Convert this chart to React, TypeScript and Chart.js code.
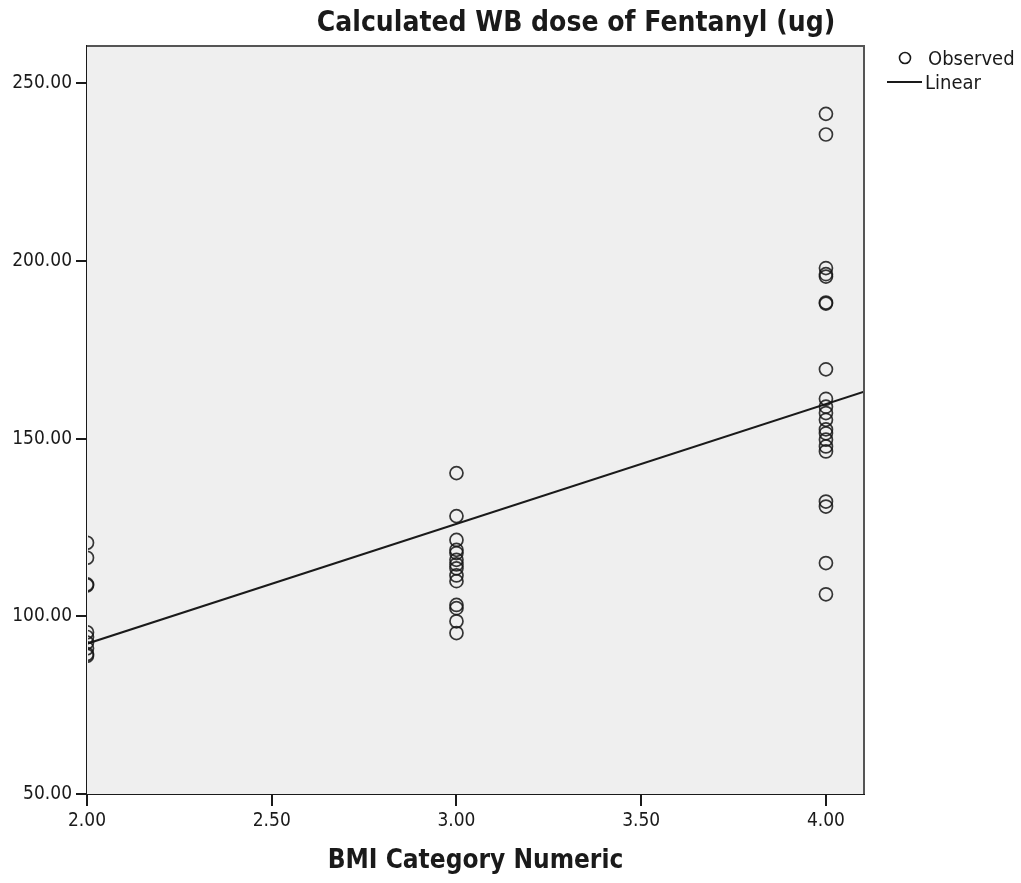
import React, { useEffect, useRef } from 'react';
import { Chart, registerables } from 'chart.js';
Chart.register(...registerables);

// BMI categories (x) and observed whole-body fentanyl dose (ug)
const categories = [2, 3, 4];
const dose2 = [120.7, 116.5, 109.0, 108.7, 95.5, 94.2, 92.6, 91.0, 89.4, 88.9];
const dose3 = [140.3, 128.2, 121.5, 118.7, 117.8, 115.9, 114.6, 113.5, 111.5, 109.9, 103.2, 102.3, 98.6, 95.3];
const dose4 = [241.4, 235.6, 198.0, 196.3, 195.6, 188.3, 188.0, 169.5, 161.2, 159.0, 157.2, 155.3, 152.6, 151.5, 149.7, 147.8, 146.4, 132.3, 130.9, 115.0, 106.2];

// Linear fit endpoints
const lineX = [2.0, 4.103];
const lineY = [92.3, 163.2];

const xTicks = [2.0, 2.5, 3.0, 3.5, 4.0];
const yTicks = [50, 100, 150, 200, 250];
const xMin = 2.0, xMax = 4.103, yMin = 50, yMax = 260.5;

const titleText = 'Calculated WB dose of Fentanyl (ug)';
const xTitle = 'BMI Category Numeric';
const legendLabels = ['Observed', 'Linear'];

const FONT = "'DejaVu Sans Condensed', 'Liberation Sans', sans-serif";
const INK = '#1a1a1a';

export default function App() {
  const ref = useRef<HTMLCanvasElement>(null);
  useEffect(() => {
    const groups = [dose2, dose3, dose4];
    const points: { x: number; y: number }[] = [];
    groups.forEach((g, i) => g.forEach((v) => points.push({ x: categories[i], y: v })));

    const framePlugin = {
      id: 'frame',
      beforeDatasetsDraw(chart: any) {
        const { ctx, chartArea: a } = chart;
        ctx.save();
        ctx.fillStyle = '#efefef';
        ctx.fillRect(a.left, a.top, a.right - a.left, a.bottom - a.top);
        ctx.restore();
      },
      beforeDatasetDraw(chart: any) {
        const { ctx, chartArea: a } = chart;
        ctx.save();
        ctx.beginPath();
        ctx.rect(a.left + 1, a.top, a.right - a.left - 1, a.bottom - a.top - 1);
        ctx.clip();
      },
      afterDatasetDraw(chart: any) {
        chart.ctx.restore();
      },
      afterDraw(chart: any) {
        const { ctx, chartArea: a } = chart;
        ctx.save();
        ctx.strokeStyle = '#555';
        ctx.lineWidth = 2;
        ctx.beginPath();
        ctx.moveTo(a.left, a.top);
        ctx.lineTo(a.right, a.top);
        ctx.lineTo(a.right, a.bottom);
        ctx.stroke();
        // title
        ctx.fillStyle = INK;
        ctx.font = `bold 28px ${FONT}`;
        ctx.textAlign = 'center';
        ctx.textBaseline = 'middle';
        ctx.fillText(titleText, 576, 24);
        // legend
        ctx.font = `20px ${FONT}`;
        ctx.textAlign = 'left';
        ctx.strokeStyle = INK;
        ctx.lineWidth = 1.6;
        ctx.beginPath();
        ctx.arc(905, 58, 5.5, 0, Math.PI * 2);
        ctx.stroke();
        ctx.fillText(legendLabels[0], 928, 60);
        ctx.lineWidth = 2;
        ctx.beginPath();
        ctx.moveTo(887, 82);
        ctx.lineTo(922, 82);
        ctx.stroke();
        ctx.fillText(legendLabels[1], 925, 84);
        ctx.restore();
      },
    };

    const chart = new Chart(ref.current!, {
      type: 'scatter',
      data: {
        datasets: [
          {
            label: legendLabels[0],
            data: points,
            pointStyle: 'circle',
            pointRadius: 6.5,
            pointBorderWidth: 1.7,
            pointBorderColor: 'rgba(20,20,20,0.85)',
            pointBackgroundColor: 'rgba(0,0,0,0)',
            showLine: false,
            clip: 0,
          } as any,
          {
            type: 'line',
            label: legendLabels[1],
            data: lineX.map((x, i) => ({ x, y: lineY[i] })),
            borderColor: INK,
            borderWidth: 2,
            pointRadius: 0,
            fill: false,
            clip: 0,
          } as any,
        ],
      },
      options: {
        responsive: false,
        maintainAspectRatio: false,
        animation: false,
        layout: { padding: { left: 0, right: 157, top: 46, bottom: 0 } },
        plugins: { legend: { display: false }, title: { display: false }, tooltip: { enabled: false } },
        scales: {
          x: {
            type: 'linear',
            min: xMin,
            max: xMax,
            afterFit: (s: any) => { s.height = 89; },
            afterBuildTicks: (s: any) => { s.ticks = xTicks.map((v) => ({ value: v })); },
            ticks: {
              color: INK,
              font: { family: FONT, size: 19 },
              padding: 4,
              maxRotation: 0,
              autoSkip: false,
              callback: (v: any) => Number(v).toFixed(2),
            },
            grid: { drawOnChartArea: false, drawTicks: true, tickLength: 12, color: INK, lineWidth: 2 },
            border: { display: true, color: INK, width: 2 },
            title: { display: true, text: xTitle, color: INK, font: { family: FONT, size: 26, weight: 'bold' }, padding: { top: 0, bottom: 6 } },
          },
          y: {
            type: 'linear',
            min: yMin,
            max: yMax,
            afterFit: (s: any) => { s.width = 87; },
            afterBuildTicks: (s: any) => { s.ticks = yTicks.map((v) => ({ value: v })); },
            ticks: {
              color: INK,
              font: { family: FONT, size: 19 },
              padding: 4,
              autoSkip: false,
              callback: (v: any) => Number(v).toFixed(2),
            },
            grid: { drawOnChartArea: false, drawTicks: true, tickLength: 11, color: INK, lineWidth: 2 },
            border: { display: true, color: INK, width: 2 },
          },
        },
      },
      plugins: [framePlugin],
    });
    return () => chart.destroy();
  }, []);
  return (
    <div style={{ position: 'absolute', left: 0, top: 0, width: 1021, height: 883, background: '#fff' }}>
      <canvas ref={ref} width={1021} height={883} style={{ display: 'block' }} />
    </div>
  );
}
